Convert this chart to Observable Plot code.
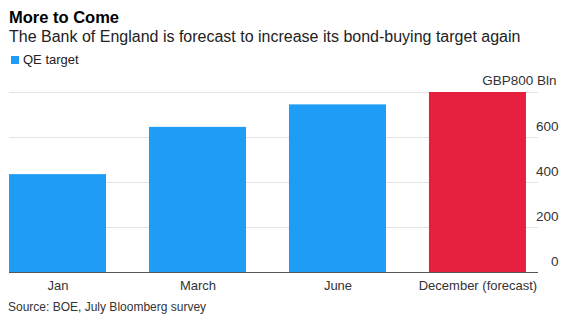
<!DOCTYPE html>
<html>
<head>
<meta charset="utf-8">
<script src="https://cdn.jsdelivr.net/npm/d3@7"></script>
<script src="https://cdn.jsdelivr.net/npm/@observablehq/plot@0.6"></script>
<style>
  html, body { margin: 0; padding: 0; background: #fff; }
  body { width: 567px; height: 330px; overflow: hidden; font-family: "Liberation Sans", Arial, Helvetica, sans-serif; }
  .title { position: absolute; left: 9px; top: 7px; font-size: 16.5px; line-height: 20px; font-weight: bold; color: #000; }
  .subtitle { position: absolute; left: 9px; top: 27px; font-size: 16px; line-height: 20px; color: #222; }
  .legend { position: absolute; left: 11px; top: 52px; font-size: 13px; line-height: 16px; color: #222; display: flex; align-items: center; }
  .swatch { width: 8px; height: 8px; background: #1f9cf5; margin-right: 4px; }
  #chart { position: absolute; left: 0; top: 70px; }
  .source { position: absolute; left: 8px; top: 299px; font-size: 12px; line-height: 16px; color: #333; }
</style>
</head>
<body>
<div class="title">More to Come</div>
<div class="subtitle">The Bank of England is forecast to increase its bond-buying target again</div>
<div class="legend"><div class="swatch"></div>QE target</div>
<div id="chart"></div>
<div class="source">Source: BOE, July Bloomberg survey</div>
<script>
const categories = ["Jan", "March", "June", "December (forecast)"];
const qeTarget = [435, 645, 745, 800];
const isForecast = [false, false, false, true];
const yTicks = [0, 200, 400, 600];
const yTopTick = [800];

const data = categories.map((c, i) => ({ category: c, value: qeTarget[i], forecast: isForecast[i] }));

const chart = Plot.plot({
  width: 567,
  height: 224,
  marginTop: 22,
  marginLeft: 9,
  marginRight: 29,
  marginBottom: 22,
  style: { fontFamily: "'Liberation Sans', Arial, sans-serif", fontSize: "13px", color: "#333", background: "#fff" },
  x: { domain: categories, paddingInner: 0.307, paddingOuter: 0.043, align: 0, round: false, label: null },
  y: { domain: [0, 800], label: null },
  marks: [
    Plot.ruleY(yTicks.concat(yTopTick).filter(d => d > 0), { stroke: "#e3e3e3", strokeWidth: 1 }),
    Plot.barY(data, { x: "category", y: "value", fill: d => d.forecast ? "#e8203f" : "#1f9cf5" }),
    Plot.ruleY([0], { stroke: "#555", strokeWidth: 1 }),
    Plot.axisX({ tickSize: 0, tickPadding: 8, fontSize: 13 }),
    Plot.axisY({ anchor: "right", ticks: yTicks, tickSize: 0, tickPadding: 0, textAnchor: "end", dx: 20, dy: -11,
      fontSize: 13.5 }),
    Plot.axisY({ anchor: "right", ticks: yTopTick, tickSize: 0, tickPadding: 0, textAnchor: "end", dx: 18, dy: -12,
      tickFormat: d => "GBP" + d + " Bln", fontSize: 13.5 })
  ]
});
document.getElementById("chart").appendChild(chart);
</script>
</body>
</html>
